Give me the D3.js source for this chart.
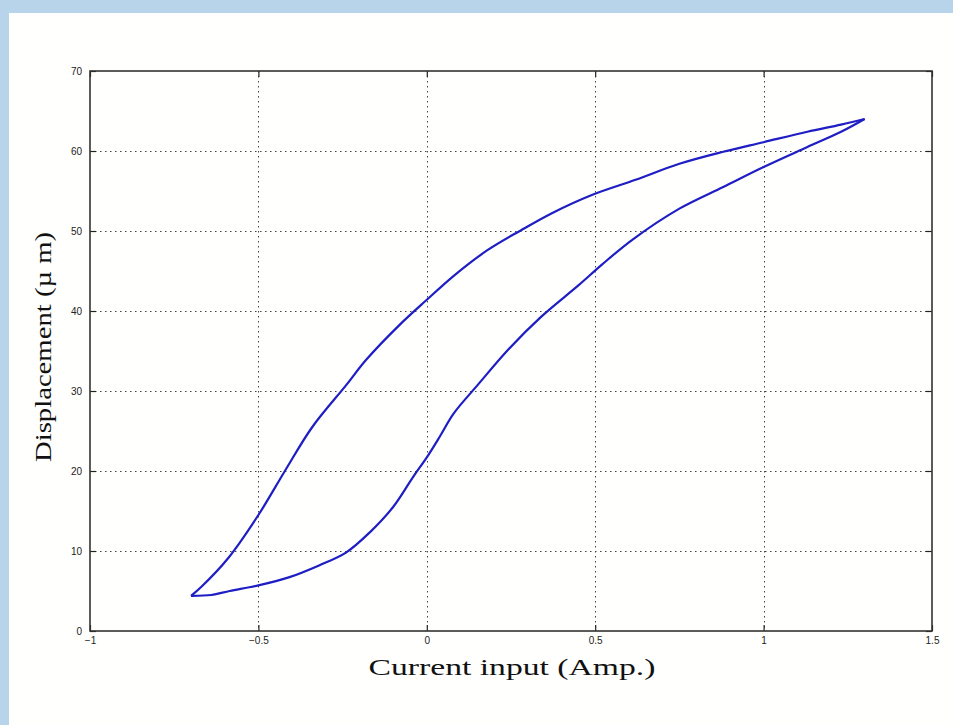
<!DOCTYPE html>
<html>
<head>
<meta charset="utf-8">
<script src="https://cdn.jsdelivr.net/npm/d3@7"></script>
<style>
  html, body { margin: 0; padding: 0; background: #b7d4ea; }
  svg { display: block; }
</style>
</head>
<body>
<svg id="chart" width="953" height="725"></svg>
<script>
// ---- data ----
const xTicks = [-1, -0.5, 0, 0.5, 1, 1.5];
const xTickLabels = ["\u22121", "\u22120.5", "0", "0.5", "1", "1.5"];
const yTicks = [0, 10, 20, 30, 40, 50, 60, 70];
const yTickLabels = ["0", "10", "20", "30", "40", "50", "60", "70"];

// ascending branch (current increasing)
const ascCurrent = [-0.70, -0.64, -0.585, -0.50, -0.41, -0.32, -0.24, -0.17, -0.10, -0.04, 0.00, 0.04, 0.08, 0.15, 0.24, 0.34, 0.45, 0.52, 0.61, 0.75, 0.88, 1.00, 1.13, 1.23, 1.30];
const ascDisp    = [4.4, 4.5, 5.0, 5.7, 6.7, 8.2, 9.8, 12.3, 15.5, 19.3, 21.7, 24.4, 27.2, 30.7, 35.1, 39.3, 43.2, 45.8, 48.9, 52.8, 55.5, 58.0, 60.5, 62.4, 64.0];

// descending branch (current decreasing)
const descCurrent = [1.30, 1.23, 1.13, 1.00, 0.88, 0.75, 0.62, 0.49, 0.37, 0.28, 0.18, 0.08, 0.00, -0.08, -0.18, -0.24, -0.34, -0.42, -0.50, -0.59, -0.67, -0.70];
const descDisp    = [64.0, 63.3, 62.4, 61.1, 59.9, 58.4, 56.4, 54.5, 52.2, 50.1, 47.6, 44.4, 41.4, 38.3, 33.9, 30.7, 25.5, 20.1, 14.5, 9.1, 5.5, 4.4];

const xTitle = "Current input (Amp.)";
const yTitle = "Displacement (\u00b5 m)";

// ---- layout ----
const svg = d3.select("#chart");
const W = 953, H = 725;
const plot = { left: 90, right: 932, top: 71, bottom: 631 };

svg.append("rect").attr("x", 0).attr("y", 0).attr("width", W).attr("height", H).attr("fill", "#b7d4ea");
svg.append("rect").attr("x", 9).attr("y", 13).attr("width", W - 9).attr("height", H - 13).attr("fill", "#fffffd");

const x = d3.scaleLinear().domain([-1, 1.5]).range([plot.left, plot.right]);
const y = d3.scaleLinear().domain([0, 70]).range([plot.bottom, plot.top]);

// grid
const grid = svg.append("g").attr("stroke", "#444").attr("stroke-width", 1).attr("stroke-dasharray", "1.5,3.5");
grid.selectAll("line.gx").data(xTicks.slice(1, -1)).join("line")
  .attr("x1", d => Math.round(x(d)) + 0.5).attr("x2", d => Math.round(x(d)) + 0.5)
  .attr("y1", plot.top).attr("y2", plot.bottom);
grid.selectAll("line.gy").data(yTicks.slice(1, -1)).join("line")
  .attr("y1", d => Math.round(y(d)) + 0.5).attr("y2", d => Math.round(y(d)) + 0.5)
  .attr("x1", plot.left).attr("x2", plot.right);

// axes (MATLAB style: inward ticks on all sides)
const tickLen = 6;
const axStyle = g => {
  g.select(".domain").remove();
  g.selectAll(".tick line").attr("stroke", "#222").attr("stroke-width", 1.2);
  g.selectAll(".tick text").attr("fill", "#222").attr("font-family", "Liberation Sans, Arial, sans-serif").attr("font-size", 10);
};
svg.append("g").attr("transform", `translate(0,${plot.bottom})`)
  .call(d3.axisBottom(x).tickValues(xTicks).tickSizeInner(-tickLen).tickSizeOuter(0).tickPadding(6)
    .tickFormat((d, i) => xTickLabels[i]))
  .call(axStyle);
svg.append("g").attr("transform", `translate(0,${plot.top})`)
  .call(d3.axisTop(x).tickValues(xTicks).tickSizeInner(-tickLen).tickSizeOuter(0).tickFormat(""))
  .call(axStyle);
svg.append("g").attr("transform", `translate(${plot.left},0)`)
  .call(d3.axisLeft(y).tickValues(yTicks).tickSizeInner(-tickLen).tickSizeOuter(0).tickPadding(8)
    .tickFormat((d, i) => yTickLabels[i]))
  .call(axStyle);
svg.append("g").attr("transform", `translate(${plot.right},0)`)
  .call(d3.axisRight(y).tickValues(yTicks).tickSizeInner(-tickLen).tickSizeOuter(0).tickFormat(""))
  .call(axStyle);

// frame
svg.append("rect").attr("x", plot.left).attr("y", plot.top)
  .attr("width", plot.right - plot.left).attr("height", plot.bottom - plot.top)
  .attr("fill", "none").attr("stroke", "#333").attr("stroke-width", 1.6);

// curve
const line = d3.line().x(d => x(d[0])).y(d => y(d[1])).curve(d3.curveCatmullRom.alpha(0.5));
const asc = ascCurrent.map((c, i) => [c, ascDisp[i]]);
const desc = descCurrent.map((c, i) => [c, descDisp[i]]);
svg.append("path").datum(asc).attr("d", line).attr("fill", "none")
  .attr("stroke", "#1e1ec4").attr("stroke-width", 2.2).attr("stroke-linejoin", "round");
svg.append("path").datum(desc).attr("d", line).attr("fill", "none")
  .attr("stroke", "#1e1ec4").attr("stroke-width", 2.2).attr("stroke-linejoin", "round");

// titles
svg.append("text").attr("x", 512).attr("y", 675).attr("text-anchor", "middle")
  .attr("font-family", "Liberation Serif, Times New Roman, serif").attr("font-size", 24).attr("fill", "#111")
  .attr("textLength", 287).attr("lengthAdjust", "spacingAndGlyphs")
  .text(xTitle);
svg.append("text").attr("transform", "translate(51,347) rotate(-90)").attr("text-anchor", "middle")
  .attr("font-family", "Liberation Serif, Times New Roman, serif").attr("font-size", 23).attr("fill", "#111")
  .attr("textLength", 230).attr("lengthAdjust", "spacingAndGlyphs")
  .text(yTitle);
</script>
</body>
</html>
